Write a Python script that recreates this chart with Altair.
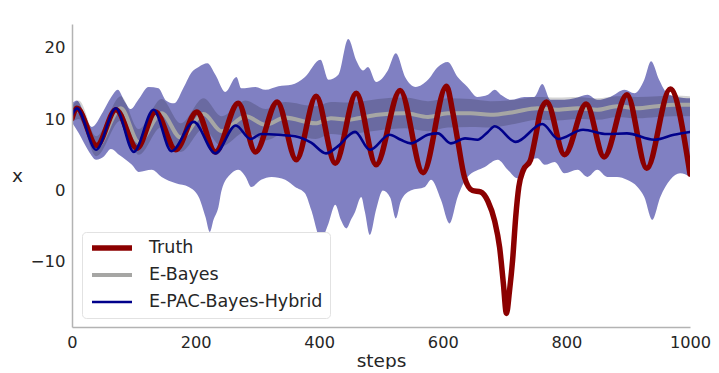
import altair as alt
import pandas as pd

SERIES = ["Truth", "E-Bayes", "E-PAC-Bayes-Hybrid"]
COLORS = ["#8b0000", "#a6a6a4", "#00008b"]
WIDTHS = [5.5, 2.6, 2.6]
Y_MIN, Y_MAX = -19.1, 23.3
X_TICKS = [0, 200, 400, 600, 800, 1000]
Y_TICKS = [-10, 0, 10, 20]

# Truth trajectory
truth_steps = [0, 8, 40, 71, 105, 135, 168, 202, 232, 269, 297, 332, 363, 395, 426, 460,
               492, 531, 568, 606, 616, 624, 635, 648, 661, 673, 684, 692, 698, 703, 708,
               713, 718, 723, 730, 742, 750, 758, 768, 797, 832, 861, 898, 930, 968, 1000]
truth_vals = [10.1, 11.5, 6.3, 11.3, 5.9, 11.0, 5.7, 11.0, 5.4, 12.2, 5.4, 12.4, 4.3, 13.2, 3.8, 13.6,
              3.6, 14.0, 2.5, 14.6, 11.0, 7.1, 1.9, 0.0, -0.2, -1.5, -4.3, -8.0, -13.0, -17.2, -14.0,
              -9.7, -3.7, 0.5, 2.8, 4.3, 7.5, 11.0, 12.4, 5.0, 12.1, 4.7, 13.4, 3.1, 14.2, 2.3]

# E-Bayes mean and band
eb_steps = [0, 11, 39, 79, 108, 145, 176, 213, 242, 281, 313, 345, 394, 419, 447, 463,
            495, 539, 576, 608, 645, 677, 716, 753, 785, 818, 850, 882, 915, 947, 974, 1000]
eb_vals = [10.5, 11.3, 6.1, 11.5, 6.8, 10.8, 7.4, 10.7, 8.3, 10.4, 9.2, 10.2, 9.4, 10.1, 9.9, 10.1,
           10.6, 10.8, 10.3, 10.8, 10.8, 10.6, 11.0, 11.5, 11.3, 11.5, 11.3, 11.8, 11.5, 11.8, 12.0, 12.0]
eb_lo = [9.5, 10.0, 4.8, 9.8, 5.0, 8.9, 5.4, 8.6, 6.2, 8.2, 7.0, 8.0, 7.2, 7.9, 7.7, 8.0,
         8.4, 8.7, 8.3, 8.8, 8.9, 8.8, 9.3, 9.9, 9.8, 10.0, 9.9, 10.3, 10.1, 10.3, 10.4, 10.4]
eb_hi = [11.8, 12.6, 7.6, 13.2, 8.6, 12.8, 9.4, 12.9, 10.4, 12.6, 11.4, 12.4, 11.8, 12.4, 12.3, 12.4,
         12.8, 13.0, 12.5, 12.9, 12.8, 12.5, 12.7, 13.1, 13.0, 13.1, 12.9, 13.2, 13.1, 13.2, 13.3, 13.2]

# E-PAC-Bayes-Hybrid mean
pb_steps = [0, 8, 39, 71, 100, 132, 161, 197, 232, 265, 289, 306, 334, 366, 387, 411, 429,
            458, 482, 514, 532, 548, 576, 592, 613, 636, 656, 673, 684, 718, 761, 787, 827,
            866, 898, 942, 974, 1000]
pb_vals = [10.5, 11.5, 5.7, 11.5, 5.4, 11.3, 5.5, 9.6, 5.2, 9.1, 7.2, 7.9, 7.8, 7.5, 6.7, 5.2, 6.1,
           8.2, 5.7, 7.8, 7.1, 6.6, 7.8, 8.0, 6.6, 7.3, 7.1, 8.2, 9.0, 6.8, 9.3, 7.2, 8.5,
           7.9, 8.0, 7.1, 7.8, 8.2]

# E-PAC-Bayes-Hybrid band, upper and lower edges
pb_up_steps = [0, 8, 21, 32, 50, 63, 74, 85, 95, 108, 124, 140, 152, 165, 181, 194, 205, 219, 232, 248,
               266, 274, 297, 313, 334, 355, 377, 402, 415, 431, 447, 460, 471, 479, 492, 511, 524, 539,
               556, 576, 592, 608, 624, 640, 656, 673, 684, 694, 710, 732, 748, 761, 774, 797, 813, 834,
               850, 871, 894, 910, 926, 937, 950, 963, 979, 1000]
pb_up_vals = [12.2, 12.6, 10.5, 8.9, 11.0, 13.0, 14.1, 12.5, 11.4, 12.8, 14.5, 14.3, 12.6, 12.2, 14.5, 16.6,
              17.3, 17.8, 16.2, 13.8, 15.9, 14.3, 14.5, 14.1, 14.6, 14.8, 15.9, 18.3, 15.5, 16.2, 21.2, 18.2,
              16.8, 17.3, 15.2, 16.8, 19.2, 15.9, 14.5, 15.5, 17.3, 18.0, 15.9, 14.5, 13.1, 13.4, 14.1, 13.4,
              12.7, 13.1, 13.1, 14.9, 12.7, 12.7, 12.9, 13.4, 12.7, 13.1, 14.1, 13.6, 15.5, 18.1, 15.5, 13.6,
              13.1, 12.9]
pb_lo_steps = [0, 11, 27, 39, 52, 63, 76, 97, 108, 129, 145, 168, 189, 205, 216, 223, 229, 237, 242, 258,
               269, 281, 290, 306, 323, 345, 361, 377, 387, 403, 415, 426, 435, 444, 452, 458, 468, 474,
               482, 492, 503, 515, 524, 532, 548, 571, 581, 597, 611, 624, 640, 668, 689, 705, 721, 737,
               753, 765, 781, 797, 818, 834, 850, 866, 882, 898, 915, 926, 939, 952, 968, 984, 1000]
pb_lo_vals = [9.5, 8.0, 5.5, 4.3, 4.8, 5.8, 5.0, 3.6, 2.6, 2.9, 1.9, 1.0, 0.5, -0.9, -3.7, -5.8, -4.1,
              -2.3, 0.0, 2.4, 2.9, 1.9, 0.5, 1.5, 1.9, 1.5, 0.5, -0.4, -2.7, -6.8, -4.6, -2.0, -4.1,
              -5.3, -4.0, -3.0, -0.9, -3.0, -6.2, -2.7, 0.0, -1.0, -3.9, -1.5, 0.0, 0.5, 1.5, -1.3,
              -4.6, -0.9, 1.9, 3.3, 4.3, 2.9, 1.7, 4.0, 4.5, 3.6, 4.0, 2.4, 2.9, 1.9, 2.9, 1.9, 1.9,
              1.5, 0.5, -0.9, -4.1, -0.9, 1.5, 2.4, 1.9]

FONT = "DejaVu Sans"
TXT = "#262626"

xscale = alt.Scale(domain=[0, 1000], nice=False, zero=False)
yscale = alt.Scale(domain=[Y_MIN, Y_MAX], nice=False, zero=False)

xaxis = alt.Axis(values=X_TICKS, format="d", title="steps", grid=False, ticks=False, tickSize=0,
                 labelFlush=False, labelOverlap=False,
                 labelFontSize=16.2, labelColor=TXT, labelFont=FONT, labelPadding=20.5,
                 labelBaseline="alphabetic", domainColor="#b3b3b3", domainWidth=1.5,
                 titleFontSize=18.5, titleFontWeight="normal", titleColor=TXT, titleFont=FONT,
                 titleBaseline="alphabetic", titleY=39, zindex=2)
yaxis = alt.Axis(values=Y_TICKS, title="x", grid=False, ticks=False, tickSize=0,
                 labelFlush=False, labelOverlap=False,
                 labelFontSize=16.5, labelColor=TXT, labelFont=FONT, labelPadding=7,
                 domainColor="#b3b3b3", domainWidth=1.5,
                 titleFontSize=18.5, titleFontWeight="normal", titleColor=TXT, titleFont=FONT,
                 titleAngle=0, titleAlign="center", titleBaseline="alphabetic",
                 titleX=-55, titleY=157, zindex=2)

legend = alt.Legend(title=None, orient="none", legendX=10, legendY=208, symbolType="stroke",
                    symbolSize=1600, clipHeight=18, labelFontSize=17.5, labelColor=TXT, labelFont=FONT,
                    fillColor="white", strokeColor="#e2e2e2", cornerRadius=4, padding=7,
                    rowPadding=9, labelOffset=14, labelLimit=400, symbolOpacity=1)

color_enc = alt.Color("series:N", scale=alt.Scale(domain=SERIES, range=COLORS), legend=legend)
width_enc = alt.StrokeWidth("series:N", scale=alt.Scale(domain=SERIES, range=WIDTHS), legend=legend)

up_df = pd.DataFrame({"step": pb_up_steps, "value": pb_up_vals})
lo_df = pd.DataFrame({"step": pb_lo_steps, "value": pb_lo_vals})
eb_band_df = pd.DataFrame({"step": eb_steps, "lo": eb_lo, "hi": eb_hi})

band_up = alt.Chart(up_df).mark_area(color="#8080c2", interpolate="monotone", clip=True).encode(
    x=alt.X("step:Q", scale=xscale, axis=xaxis),
    y=alt.Y("value:Q", scale=yscale, axis=yaxis),
    y2=alt.datum(Y_MIN),
)
band_mask = alt.Chart(lo_df).mark_area(color="white", interpolate="monotone", clip=True).encode(
    x=alt.X("step:Q", scale=xscale),
    y=alt.Y("value:Q", scale=yscale),
    y2=alt.datum(Y_MIN),
)
eb_band = alt.Chart(eb_band_df).mark_area(color="black", opacity=0.17, interpolate="monotone", clip=True).encode(
    x=alt.X("step:Q", scale=xscale),
    y=alt.Y("lo:Q", scale=yscale),
    y2="hi:Q",
)


def line_layer(steps, vals, name):
    df = pd.DataFrame({"step": steps, "value": vals, "series": name})
    return alt.Chart(df).mark_line(interpolate="monotone", strokeCap="round",
                                   strokeJoin="round", clip=True).encode(
        x=alt.X("step:Q", scale=xscale),
        y=alt.Y("value:Q", scale=yscale),
        color=color_enc,
        strokeWidth=width_enc,
    )


eb_line = line_layer(eb_steps, eb_vals, "E-Bayes")
truth_line = line_layer(truth_steps, truth_vals, "Truth")
pb_line = line_layer(pb_steps, pb_vals, "E-PAC-Bayes-Hybrid")

chart = alt.layer(band_up, band_mask, eb_band, eb_line, truth_line, pb_line).properties(
    width=618, height=303,
    autosize="none",
    padding={"left": 64, "top": 16, "right": 21, "bottom": 42},
    background="white",
).configure_view(stroke="transparent")

chart.save("out.html", embed_options={"renderer": "svg", "actions": False})
